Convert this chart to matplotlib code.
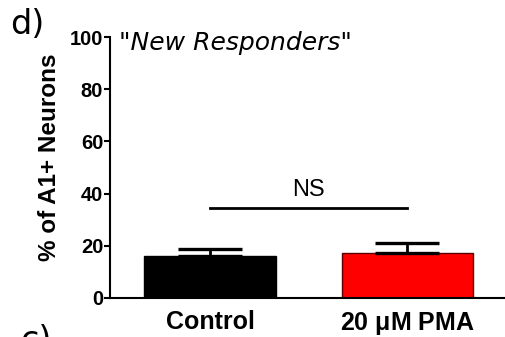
import matplotlib.pyplot as plt

# Данные
groups = ['Control', '20 $\\mathregular{\\mu}$M PMA']
means = [16.0, 17.4]
errors = [2.7, 3.6]
colors = ['black', '#ff0000']
edges = ['black', '#5a0000']
sig_y = 34.6
sig_label = 'NS'

fig = plt.figure(figsize=(5.05, 3.37), dpi=100)
ax = fig.add_axes([0.218, 0.116, 0.782, 0.774])

x = [0, 1]
ax.bar(x, means, width=0.668, color=colors, edgecolor=edges, linewidth=1, zorder=2)
ax.errorbar(x, means, yerr=[[0, 0], errors], fmt='none', ecolor='black',
            elinewidth=2, capsize=23, capthick=2.4, zorder=3)

# Линия значимости
ax.plot(x, [sig_y, sig_y], color='black', linewidth=2)
ax.text(0.5, sig_y + 2.6, sig_label, ha='center', va='bottom',
        fontsize=17, family='Liberation Sans')

ax.set_xlim(-0.506, 1.494)
ax.set_ylim(0, 100)
ax.set_yticks([0, 20, 40, 60, 80, 100])
ax.set_xticks(x)
ax.set_xticklabels(groups, fontsize=18, fontweight='bold', family='Liberation Sans')
for lbl in ax.get_yticklabels():
    lbl.set_fontweight('bold')
    lbl.set_family('Liberation Sans')
    lbl.set_fontsize(14.5)
ax.tick_params(axis='x', length=0, pad=9)
ax.tick_params(axis='y', length=4, width=1.5, pad=1)

ax.spines['top'].set_visible(False)
ax.spines['right'].set_visible(False)
ax.spines['left'].set_linewidth(1.5)
ax.spines['bottom'].set_linewidth(1.5)

ax.set_ylabel('% of A1+ Neurons', fontsize=17.5, fontweight='bold',
              family='Liberation Sans')
ax.yaxis.set_label_coords(-0.125, 0.54)

ax.text(0.022, 1.025, '"New Responders"', transform=ax.transAxes,
        ha='left', va='top', fontsize=18, style='italic', family='DejaVu Sans')

fig.text(0.02, 0.975, 'd)', ha='left', va='top', fontsize=24, family='DejaVu Sans')
fig.text(0.04, -0.06, 'c)', ha='left', va='bottom', fontsize=24, family='DejaVu Sans')

fig.savefig('out.png', dpi=100)
